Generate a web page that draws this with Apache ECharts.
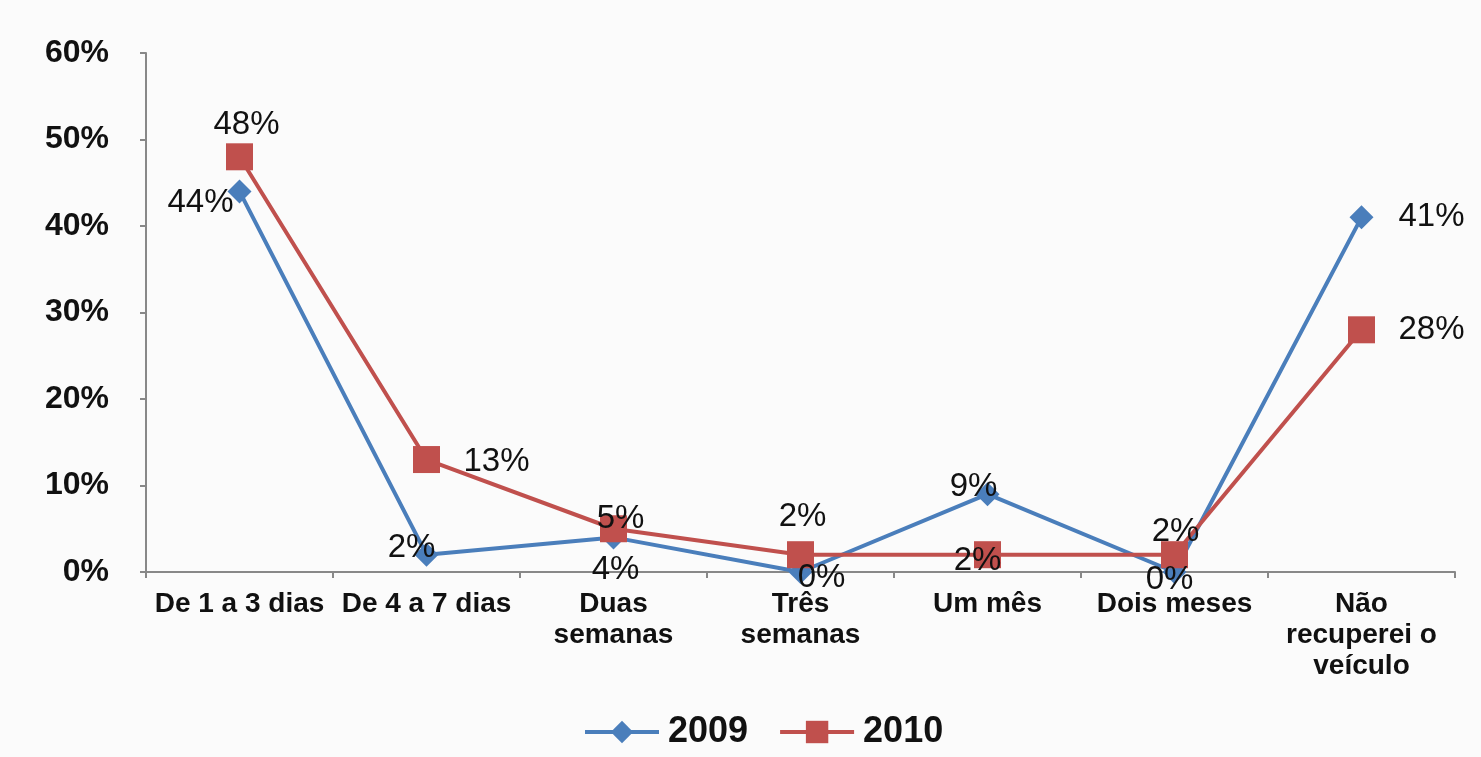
<!DOCTYPE html>
<html><head><meta charset="utf-8">
<script src="https://cdn.jsdelivr.net/npm/echarts@6/dist/echarts.min.js"></script>
<style>html,body{margin:0;padding:0;background:#fbfbfb}#c{width:1481px;height:757px}</style>
</head><body><div id="c"></div>
<script>
const categories = ['De 1 a 3 dias','De 4 a 7 dias','Duas\nsemanas','Três\nsemanas','Um mês','Dois meses','Não\nrecuperei o\nveículo'];
const values2009 = [44, 2, 4, 0, 9, 0, 41];
const values2010 = [48, 13, 5, 2, 2, 2, 28];
const yTicks = [0,10,20,30,40,50,60];
// label offsets (pixels from each point's centre)
const labelOffsets2009 = [[-39,12],[-15,-7],[2,33],[21,6],[-14,-7],[-5,8],[70,0]];
const labelOffsets2010 = [[7,-32],[70,2],[7,-10],[2,-38],[-10,6],[1,-23],[70,0]];

const font = 'Liberation Sans, Arial, sans-serif';
function mk(vals, offs){
  return vals.map((v,i)=>({value:v,label:{position:'inside',offset:offs[i]}}));
}
const chart = echarts.init(document.getElementById('c'));
chart.setOption({
  animation:false,
  backgroundColor:'#fbfbfb',
  grid:{left:146,right:26,top:53,bottom:185,containLabel:false},
  legend:{bottom:2,left:578,itemWidth:74,itemHeight:28,itemGap:30,
    lineStyle:{width:4},
    textStyle:{fontFamily:font,fontSize:36,fontWeight:'bold',color:'#111',padding:[0,0,0,4]},
    data:['2009','2010']},
  xAxis:{type:'category',data:categories,boundaryGap:true,
    axisLine:{lineStyle:{color:'#888',width:2}},
    axisTick:{show:true,length:6,lineStyle:{color:'#888',width:2}},
    axisLabel:{interval:0,fontFamily:font,fontSize:28,fontWeight:'bold',color:'#111',lineHeight:31,margin:17}},
  yAxis:{type:'value',min:yTicks[0],max:yTicks[yTicks.length-1],interval:10,
    axisLine:{show:true,lineStyle:{color:'#888',width:2}},
    axisTick:{show:true,length:6,lineStyle:{color:'#888',width:2}},
    splitLine:{show:false},
    axisLabel:{formatter:'{value}%',fontFamily:font,fontSize:32,fontWeight:'bold',color:'#111',margin:37}},
  series:[
    {name:'2009',type:'line',data:mk(values2009,labelOffsets2009),
     symbol:'diamond',symbolSize:24,
     itemStyle:{color:'#4a7ebb'},lineStyle:{color:'#4a7ebb',width:4},
     label:{show:true,formatter:'{c}%',fontFamily:font,fontSize:33,color:'#111'}},
    {name:'2010',type:'line',data:mk(values2010,labelOffsets2010),
     symbol:'rect',symbolSize:27,
     itemStyle:{color:'#c0504d'},lineStyle:{color:'#c0504d',width:4},
     label:{show:true,formatter:'{c}%',fontFamily:font,fontSize:33,color:'#111'}}
  ]
});
</script></body></html>
